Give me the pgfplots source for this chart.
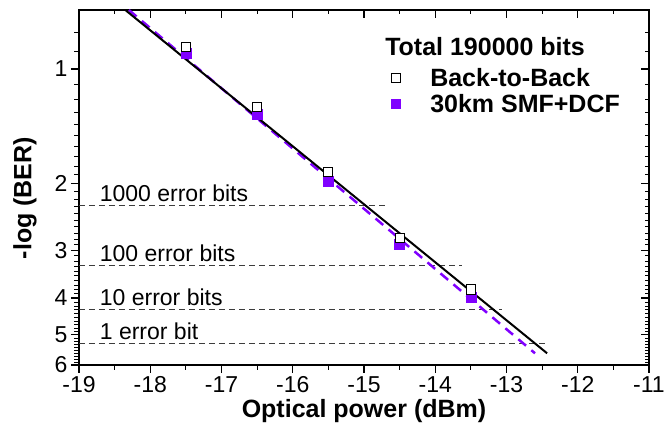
\documentclass[border=0pt]{standalone}
\usepackage{pgfplots}
\pgfplotsset{compat=1.18}
\usetikzlibrary{calc}
\usepackage{fontspec}
\setmainfont{Liberation Sans}
\definecolor{vio}{RGB}{128,0,255}
\definecolor{dgray}{RGB}{60,60,60}
\newcommand{\tickfont}{\fontsize{23}{25}\selectfont}
\newcommand{\labfont}{\bfseries\fontsize{25}{28}\selectfont}
\begin{document}
\begin{tikzpicture}
\begin{axis}[
  scale only axis, width=570pt, height=355pt,
  xmin=-19, xmax=-11, ymin=0.7, ymax=6,
  ymode=log, y dir=reverse,
  clip=false,
  xtick={-19,-18,-17,-16,-15,-14,-13,-12,-11},
  ytick={1,2,3,4,5,6},
  major tick length=8pt,
  axis line style={line width=1.5pt},
  tick style={line width=1.2pt, black},
  xtick pos=bottom, ytick pos=left, tick align=outside,
  name=main,
  xticklabels={-19,-18,-17,-16,-15,-14,-13,-12,-11},
  yticklabels={1,2,3,4,5,6},
  tick label style={font=\tickfont},
  xlabel={Optical power (dBm)},
  ylabel={-log (BER)},
  label style={font=\labfont},
  ylabel style={at={(axis description cs:-0.0737,0.47)}, anchor=south, inner sep=0pt},
  legend style={draw=none, fill=none, at={(axis description cs:0.545,0.842)}, anchor=north west,
    font=\labfont, row sep=2pt, inner sep=0pt, legend cell align=left},
  legend image code/.code={\path (0pt,0pt) (38pt,0pt); \draw[#1] plot coordinates {(6pt,0pt)};},
]
% tick marks (bottom/left outside, top/right inside)
\pgfplotsinvokeforeach{-19,-18,-17,-16,-15,-14,-13,-12,-11}{
  \draw[line width=1.2pt] (axis cs:#1,6) -- ++(0pt,-8pt);
  \draw[line width=1.2pt] (axis cs:#1,0.7) -- ++(0pt,-8pt);
}
\pgfplotsinvokeforeach{-18.5,-17.5,-16.5,-15.5,-14.5,-13.5,-12.5,-11.5}{
  \draw[line width=1.2pt] (axis cs:#1,6) -- ++(0pt,-4.5pt);
  \draw[line width=1.2pt] (axis cs:#1,0.7) -- ++(0pt,-4.5pt);
}
\pgfplotsinvokeforeach{1,2,3,4,5}{
  \draw[line width=1.2pt] (axis cs:-19,#1) -- ++(-8pt,0pt);
  \draw[line width=1.2pt] (axis cs:-11,#1) -- ++(-8pt,0pt);
}
\pgfplotsinvokeforeach{0.8,0.9,1.1,1.2,1.3,1.4,1.5,1.6,1.7,1.8,1.9,2.1,2.2,2.3,2.4,2.5,2.6,2.7,2.8,2.9,3.1,3.2,3.3,3.4,3.5,3.6,3.7,3.8,3.9,4.1,4.2,4.3,4.4,4.5,4.6,4.7,4.8,4.9,5.1,5.2,5.3,5.4,5.5,5.6,5.7,5.8,5.9}{
  \draw[line width=1pt] (axis cs:-19,#1) -- ++(-4.5pt,0pt);
  \draw[line width=1pt] (axis cs:-11,#1) -- ++(-4.5pt,0pt);
}
% reference lines
\addplot[dgray, line width=1pt, dash pattern=on 6pt off 4pt, forget plot] coordinates {(-19,2.28)(-14.66,2.28)};
\addplot[dgray, line width=1pt, dash pattern=on 6pt off 4pt, forget plot] coordinates {(-19,3.28)(-13.62,3.28)};
\addplot[dgray, line width=1pt, dash pattern=on 6pt off 4pt, forget plot] coordinates {(-19,4.28)(-13.06,4.28)};
\addplot[dgray, line width=1pt, dash pattern=on 6pt off 4pt, forget plot] coordinates {(-19,5.28)(-12.44,5.28)};
% data
\addplot[only marks, mark=square*, mark size=5pt, color=vio, forget plot] coordinates {
(-17.5,0.911) (-16.5,1.313) (-15.5,1.977) (-14.5,2.887) (-13.5,3.99)};
\addplot[only marks, mark=square*, mark size=4.6pt, mark options={draw=black, fill=white, line width=1pt}] coordinates {
(-17.5,0.874) (-16.5,1.259) (-15.5,1.866) (-14.5,2.776) (-13.5,3.80)};
\addlegendentry{Back-to-Back}
\addlegendimage{only marks, mark=square*, mark size=4.6pt, color=vio}
\addlegendentry{30km SMF+DCF}
% fits
\addplot[vio, line width=2.5pt, dash pattern=on 10pt off 7pt, forget plot] coordinates {(-18.3,0.70)(-12.6,5.59)};
\addplot[black, line width=2pt, forget plot] coordinates {(-18.35,0.70)(-12.43,5.59)};
% labels
\node[anchor=base west, inner sep=0pt, font=\tickfont, yshift=4pt] at (axis cs:-18.71,2.28) {1000 error bits};
\node[anchor=base west, inner sep=0pt, font=\tickfont, yshift=4pt] at (axis cs:-18.71,3.28) {100 error bits};
\node[anchor=base west, inner sep=0pt, font=\tickfont, yshift=4pt] at (axis cs:-18.71,4.28) {10 error bits};
\node[anchor=base west, inner sep=0pt, font=\tickfont, yshift=4pt] at (axis cs:-18.71,5.28) {1 error bit};
\node[anchor=west, inner sep=0pt, font=\labfont] at (axis description cs:0.537,0.896) {Total 190000 bits};
\end{axis}
\path (main.south west) ++(-79pt,-65pt) coordinate (bbA);
\path ($(main.north east)+(20pt,10pt)$) coordinate (bbB);
\path (bbA) rectangle (bbB);
\end{tikzpicture}
\end{document}
